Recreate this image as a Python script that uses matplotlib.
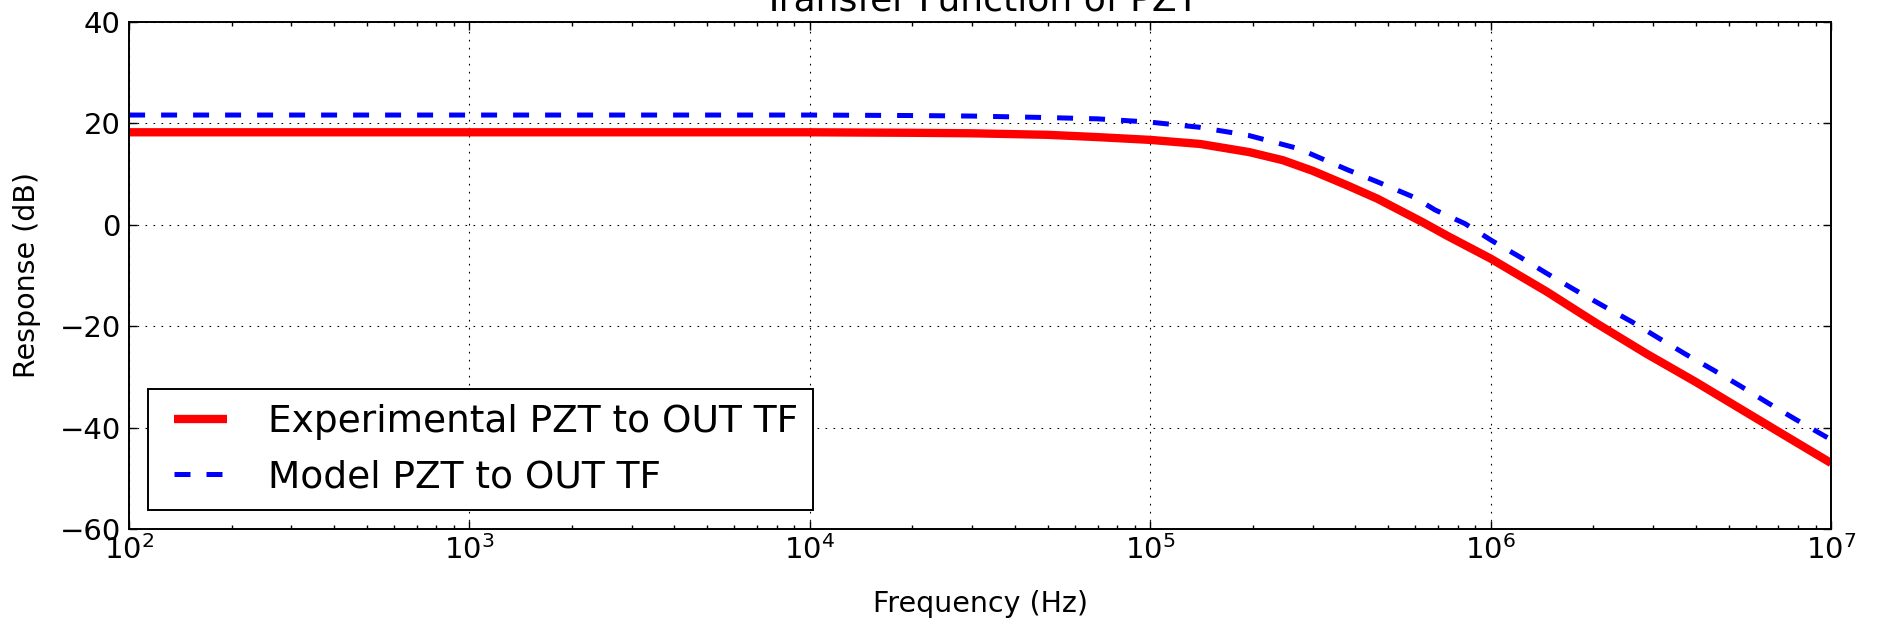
import numpy as np
import matplotlib
matplotlib.use('Agg')
import matplotlib.pyplot as plt

# values (frequency in Hz, response in dB)
exp_freq = [1e2, 1e3, 1e4, 2e4, 3e4, 5e4, 7e4, 1e5, 1.4e5, 1.95e5, 2.45e5, 3e5,
            3.8e5, 4.65e5, 6.3e5, 7.45e5, 1e6, 1.46e6, 2.05e6, 2.86e6, 4e6,
            5.6e6, 7.85e6, 1e7]
exp_db = [18.2, 18.2, 18.2, 18.1, 18.0, 17.7, 17.25, 16.7, 15.9, 14.3, 12.7, 10.6,
          7.7, 5.1, 0.5, -2.2, -6.7, -13.2, -19.5, -25.4, -31.0,
          -36.9, -42.8, -47.0]

model_freq = [1e2, 1e3, 1e4, 2e4, 3e4, 5e4, 7e4, 1e5, 1.39e5, 1.94e5, 2.72e5, 3.8e5,
              4.66e5, 6.0e5, 6.86e5, 8.4e5, 1.01e6, 1.22e6, 1.46e6, 1.76e6, 2.15e6,
              2.59e6, 3.12e6, 3.75e6, 4.52e6, 5.44e6, 6.54e6, 7.87e6, 1e7]
model_db = [21.6, 21.6, 21.6, 21.5, 21.4, 21.1, 20.85, 20.2, 19.2, 17.6, 15.0, 10.8,
            8.4, 5.3, 2.9, 0.2, -3.2, -6.4, -9.6, -12.8, -16.1,
            -19.1, -22.4, -25.6, -28.7, -31.9, -35.2, -38.4, -42.4]

y_ticks = [-60, -40, -20, 0, 20, 40]

plt.rcParams['font.family'] = 'DejaVu Sans'
plt.rcParams['axes.linewidth'] = 1.4

fig = plt.figure(figsize=(18.79, 6.27), dpi=100)
ax = fig.add_axes([0.0687, 0.1563, 0.9745 - 0.0687, 0.9654 - 0.1563])

ax.semilogx(exp_freq, exp_db, color='red', linewidth=6, solid_capstyle='butt',
            label='Experimental PZT to OUT TF')
ax.semilogx(model_freq, model_db, color='blue', linewidth=3.6, linestyle=(0, (3.2, 3.2)),
            dash_capstyle='butt', label='Model PZT to OUT TF')

ax.set_xlim(1e2, 1e7)
ax.set_ylim(-60, 40)
ax.set_yticks(y_ticks)

ax.grid(True, which='major', color='black', linestyle=(0, (1.5, 5.7)), linewidth=0.8)

ax.tick_params(which='both', direction='in', top=True, right=True, labelsize=21)
ax.tick_params(axis='x', which='both', pad=4.5)
ax.tick_params(axis='y', which='both', pad=6)
ax.tick_params(which='major', length=5.8, width=1.0)
ax.tick_params(which='minor', length=2.9, width=1.0)

ax.set_title('Transfer Function of PZT', fontsize=26, pad=8.4)
ax.set_xlabel('Frequency (Hz)', fontsize=20.5, labelpad=18)
ax.set_ylabel('Response (dB)', fontsize=20.5, labelpad=13)

leg = ax.legend(loc='lower left', fontsize=27, numpoints=2, fancybox=False,
                framealpha=1, borderpad=0.4, labelspacing=0.5, handlelength=2,
                handletextpad=0.8, borderaxespad=0.5)
leg.get_frame().set_edgecolor('black')
leg.get_frame().set_linewidth(1.4)

fig.savefig('out.png', dpi=100)
